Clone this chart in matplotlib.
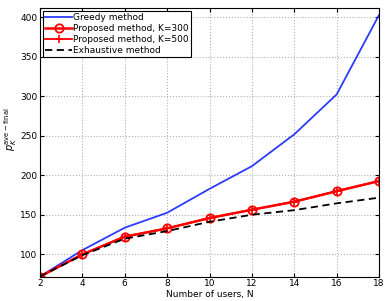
import matplotlib
matplotlib.use("Agg")
import matplotlib.pyplot as plt

N = [2, 4, 6, 8, 10, 12, 14, 16, 18]
greedy = [72, 105.4, 133.8, 152.7, 183, 211.7, 252, 302.5, 403]
prop300 = [72, 100, 122.4, 132.9, 146, 156.5, 166.7, 180, 192.8]
prop500 = [72, 100, 122.6, 133.0, 146.2, 156.6, 166.8, 180.1, 193.0]
exhaustive = [72, 99, 119.9, 129.5, 141.3, 150.2, 156, 164.6, 171.8]
yticks = [100, 150, 200, 250, 300, 350, 400]

plt.rcParams['font.family'] = ['DejaVu Sans']
fig = plt.figure(figsize=(3.9, 3.01), dpi=100)
ax = fig.add_axes([40/390, 1-276.5/301, 339/390, 268.5/301])

ax.plot(N, greedy, color='#2b3bff', lw=1.3, label='Greedy method')
ax.plot(N, prop300, color='red', lw=1.8, marker='o', ms=6, mfc='none', mew=1.3, label='Proposed method, K=300')
ax.plot(N, prop500, color='red', lw=1.3, marker='+', ms=6, mew=1.2, label='Proposed method, K=500')
ax.plot(N, exhaustive, color='black', lw=1.3, ls=(0, (4, 2.5)), label='Exhaustive method')

ax.set_xlim(2, 18)
ax.set_ylim(72, 412)
ax.set_xticks(N)
ax.set_yticks(yticks)
ax.grid(True, ls=':', color='#b0b0b0', lw=0.8)
ax.tick_params(labelsize=6.5, direction='in', length=3, pad=2, top=True, right=True)
for s in ax.spines.values():
    s.set_linewidth(0.8)
ax.set_xlabel('Number of users, N', fontsize=6.5, labelpad=1)
ax.set_ylabel(r'$p_K^{\mathrm{ave-final}}$', fontsize=7, labelpad=1)
ax.yaxis.set_label_coords(-0.062, 0.55)

leg = ax.legend(loc='upper left', fontsize=6.5, frameon=True, fancybox=False,
                edgecolor='black', framealpha=1, borderpad=0.25, labelspacing=0.2,
                handlelength=2.9, handletextpad=0.2, borderaxespad=0.35)
leg.get_frame().set_linewidth(0.8)

fig.savefig('out.png', dpi=100)
